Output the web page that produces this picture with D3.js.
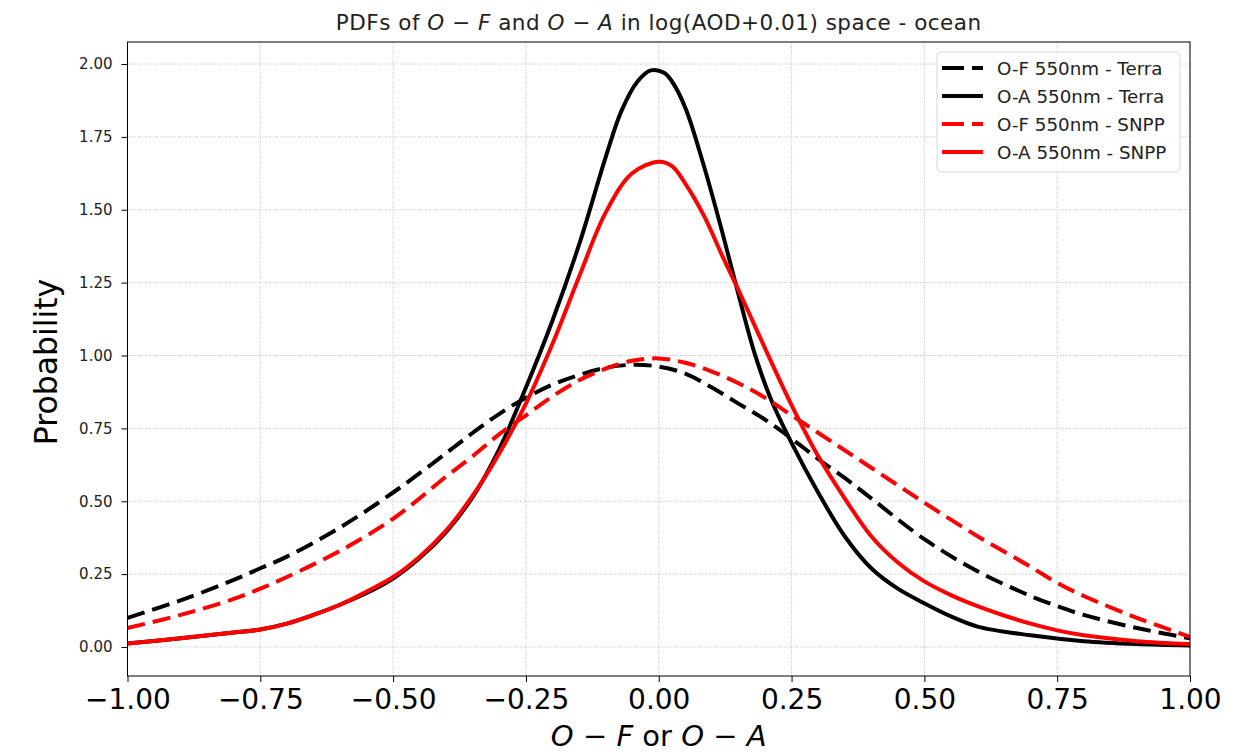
<!DOCTYPE html>
<html><head><meta charset="utf-8">
<script src="https://cdn.jsdelivr.net/npm/d3@7"></script>
<style>body{margin:0;background:#fff;} svg{display:block;font-family:"DejaVu Sans",sans-serif;}</style>
</head><body><svg id="c" width="1238" height="752"></svg>
<script>
const xTicks = [-1.00,-0.75,-0.50,-0.25,0.00,0.25,0.50,0.75,1.00];
const yTicks = [0.00,0.25,0.50,0.75,1.00,1.25,1.50,1.75,2.00];

const ofTerraX = [-1,-0.9,-0.8,-0.75,-0.7,-0.6,-0.5,-0.4,-0.35,-0.3,-0.25,-0.2,-0.15,-0.1,-0.05,0,0.05,0.1,0.15,0.2,0.25,0.3,0.35,0.4,0.5,0.6,0.7,0.75,0.8,0.9,1.0];
const ofTerraY = [0.10,0.16,0.23,0.27,0.31,0.41,0.53,0.665,0.735,0.80,0.855,0.90,0.933,0.958,0.968,0.962,0.938,0.89,0.835,0.78,0.715,0.645,0.58,0.51,0.37,0.26,0.175,0.14,0.11,0.065,0.03];

const oaTerraX = [-1,-0.9,-0.8,-0.75,-0.7,-0.65,-0.6,-0.55,-0.5,-0.45,-0.4,-0.35,-0.3,-0.25,-0.2,-0.15,-0.1,-0.07,-0.04,-0.015,0.01,0.025,0.05,0.085,0.12,0.15,0.18,0.21,0.25,0.3,0.35,0.4,0.45,0.5,0.55,0.6,0.7,0.8,0.9,1.0];
const oaTerraY = [0.012,0.03,0.05,0.06,0.08,0.11,0.145,0.185,0.235,0.305,0.395,0.515,0.68,0.89,1.12,1.38,1.68,1.84,1.94,1.978,1.97,1.94,1.85,1.65,1.42,1.21,1.01,0.855,0.70,0.53,0.38,0.27,0.20,0.15,0.105,0.07,0.04,0.02,0.01,0.005];

const ofSnppX = [-1,-0.9,-0.8,-0.75,-0.7,-0.6,-0.5,-0.4,-0.35,-0.3,-0.25,-0.2,-0.15,-0.1,-0.05,0,0.05,0.1,0.15,0.2,0.25,0.3,0.35,0.4,0.45,0.5,0.6,0.7,0.75,0.8,0.9,1.0];
const ofSnppY = [0.065,0.11,0.165,0.20,0.24,0.33,0.44,0.585,0.655,0.73,0.795,0.86,0.915,0.955,0.982,0.99,0.975,0.945,0.905,0.855,0.795,0.735,0.675,0.615,0.555,0.495,0.38,0.275,0.22,0.175,0.10,0.035];

const oaSnppX = [-1,-0.9,-0.8,-0.75,-0.7,-0.65,-0.6,-0.55,-0.5,-0.45,-0.4,-0.35,-0.3,-0.25,-0.2,-0.15,-0.1,-0.05,0,0.025,0.05,0.085,0.12,0.15,0.18,0.21,0.25,0.3,0.35,0.4,0.45,0.5,0.55,0.6,0.65,0.7,0.75,0.8,0.9,1.0];
const oaSnppY = [0.012,0.03,0.05,0.06,0.08,0.11,0.145,0.19,0.24,0.31,0.40,0.52,0.665,0.835,1.04,1.27,1.49,1.625,1.665,1.65,1.59,1.48,1.34,1.225,1.105,0.985,0.83,0.655,0.51,0.38,0.29,0.225,0.178,0.14,0.108,0.08,0.057,0.04,0.02,0.01];

const seriesNames = ["O-F 550nm - Terra","O-A 550nm - Terra","O-F 550nm - SNPP","O-A 550nm - SNPP"];
const seriesColors = ["#000000","#000000","#ff0000","#ff0000"];
const seriesDashed = [true,false,true,false];
const seriesX = [ofTerraX,oaTerraX,ofSnppX,oaSnppX];
const seriesY = [ofTerraY,oaTerraY,ofSnppY,oaSnppY];

const svg = d3.select("#c");
const L=127.5,R=1190,T=42,B=676;
const x = d3.scaleLinear().domain([-1,1]).range([L,R]);
const y = d3.scaleLinear().domain([-0.0995,2.0755]).range([B,T]);

// grid
svg.append("g").selectAll("line").data(xTicks).join("line")
  .attr("x1",d=>x(d)).attr("x2",d=>x(d)).attr("y1",T).attr("y2",B)
  .attr("stroke","#b0b0b0").attr("stroke-width",0.8).attr("stroke-dasharray","1,1.5");
svg.append("g").selectAll("line").data(yTicks).join("line")
  .attr("x1",L).attr("x2",R).attr("y1",d=>y(d)).attr("y2",d=>y(d))
  .attr("stroke","#b0b0b0").attr("stroke-width",0.8).attr("stroke-dasharray","1,1.5");

// lines
svg.append("clipPath").attr("id","cp").append("rect").attr("x",L).attr("y",T).attr("width",R-L).attr("height",B-T);
const line = d3.line().x(d=>x(d[0])).y(d=>y(d[1])).curve(d3.curveCatmullRom.alpha(0.5));
seriesNames.forEach((n,i)=>{
  const pts = seriesX[i].map((v,j)=>[v,seriesY[i][j]]);
  svg.append("path").attr("d",line(pts)).attr("fill","none")
    .attr("stroke",seriesColors[i]).attr("stroke-width",4)
    .attr("stroke-dasharray",seriesDashed[i]?"18,8":null)
    .attr("clip-path","url(#cp)");
});

// axes
const xa = svg.append("g").attr("transform",`translate(0,${B})`)
  .call(d3.axisBottom(x).tickValues(xTicks).tickSize(6).tickPadding(7).tickFormat(d=>d3.format(".2f")(d).replace("-","\u2212")));
xa.selectAll("text").attr("font-size",28).attr("fill","#000").attr("font-family","DejaVu Sans");
const ya = svg.append("g").attr("transform",`translate(${L},0)`)
  .call(d3.axisLeft(y).tickValues(yTicks).tickSize(6).tickPadding(9).tickFormat(d3.format(".2f")));
ya.selectAll("text").attr("font-size",15).attr("fill","#222").attr("font-family","DejaVu Sans");
[xa,ya].forEach(a=>{a.select(".domain").remove(); a.selectAll("line").attr("stroke","#000");});
svg.append("rect").attr("x",L).attr("y",T).attr("width",R-L).attr("height",B-T)
  .attr("fill","none").attr("stroke","#000").attr("stroke-width",1);

// title
const tt = svg.append("text").attr("x",(L+R)/2).attr("y",30).attr("text-anchor","middle")
  .attr("font-size",21.5).attr("letter-spacing",0.5).attr("fill","#222");
tt.append("tspan").text("PDFs of ");
tt.append("tspan").attr("font-style","italic").text("O");
tt.append("tspan").text(" \u2212 ");
tt.append("tspan").attr("font-style","italic").text("F");
tt.append("tspan").text(" and ");
tt.append("tspan").attr("font-style","italic").text("O");
tt.append("tspan").text(" \u2212 ");
tt.append("tspan").attr("font-style","italic").text("A");
tt.append("tspan").text(" in log(AOD+0.01) space - ocean");

// y label
svg.append("text").attr("transform","translate(57,362) rotate(-90)").attr("text-anchor","middle")
  .attr("font-size",31.5).attr("fill","#000").text("Probability");

// x label
const xl = svg.append("text").attr("x",(L+R)/2).attr("y",746).attr("text-anchor","middle")
  .attr("font-size",29).attr("fill","#000");
xl.append("tspan").attr("font-style","italic").text("O");
xl.append("tspan").text(" \u2212 ");
xl.append("tspan").attr("font-style","italic").text("F");
xl.append("tspan").text(" or ");
xl.append("tspan").attr("font-style","italic").text("O");
xl.append("tspan").text(" \u2212 ");
xl.append("tspan").attr("font-style","italic").text("A");

// legend
const lg = svg.append("g");
lg.append("rect").attr("x",937).attr("y",52).attr("width",243).attr("height",120).attr("rx",4)
  .attr("fill","#fff").attr("fill-opacity",0.85).attr("stroke","#d6d6d6").attr("stroke-width",1);
seriesNames.forEach((n,i)=>{
  const yy = 68 + i*28;
  lg.append("line").attr("x1",942).attr("x2",983).attr("y1",yy).attr("y2",yy)
    .attr("stroke",seriesColors[i]).attr("stroke-width",4)
    .attr("stroke-dasharray",seriesDashed[i]?"22,8":null);
  lg.append("text").attr("x",997).attr("y",yy+6.5).attr("font-size",18.3).attr("fill","#222").text(n);
});
</script></body></html>
